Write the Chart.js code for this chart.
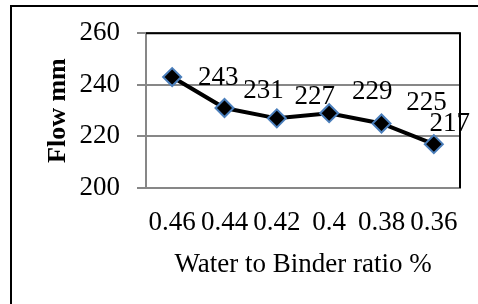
<!DOCTYPE html>
<html>
<head>
<meta charset="utf-8">
<script src="https://cdn.jsdelivr.net/npm/chart.js@4"></script>
<style>
    html, body { margin: 0; padding: 0; background: #fff; overflow: hidden; }
    #bingkai { position: absolute; left: 10px; top: 5px; width: 600px; height: 400px; border: 2px solid #000; }
    #wadah { position: absolute; left: 0; top: 0; width: 478px; height: 304px; }
</style>
</head>
<body>
<div id="bingkai"></div>
<div id="wadah"><canvas id="grafik-flow" width="478" height="304"></canvas></div>
<script>
// Data
const kategori = ['0.46', '0.44', '0.42', '0.4', '0.38', '0.36'];
const nilaiFlow = [243, 231, 227, 229, 225, 217];
const tickY = [200, 220, 240, 260];

const abu = '#878787';
Chart.defaults.font.family = '"Liberation Serif", "Times New Roman", serif';
Chart.defaults.color = '#000';

// Garis hitam di atas dan kanan area plot
const bingkaiPlot = {
    id: 'bingkaiPlot',
    beforeDatasetsDraw(chart) {
        const { ctx, chartArea: a } = chart;
        ctx.save();
        ctx.strokeStyle = '#000';
        ctx.lineWidth = 2;
        ctx.beginPath();
        ctx.moveTo(a.left, a.top);
        ctx.lineTo(a.right, a.top);
        ctx.lineTo(a.right, a.bottom);
        ctx.stroke();
        ctx.restore();
    }
};

// Label nilai di samping titik (posisi seperti di Excel)
const labelNilai = {
    id: 'labelNilai',
    afterDatasetsDraw(chart, args, opts) {
        const ctx = chart.ctx;
        const meta = chart.getDatasetMeta(0);
        ctx.save();
        ctx.font = opts.font;
        ctx.fillStyle = '#000';
        ctx.textAlign = 'center';
        ctx.textBaseline = 'middle';
        meta.data.forEach((titik, i) => {
            const [dx, dy] = opts.geser[i];
            ctx.fillText(String(nilaiFlow[i]), titik.x + dx, titik.y + dy);
        });
        ctx.restore();
    }
};

new Chart(document.getElementById('grafik-flow').getContext('2d'), {
    type: 'line',
    data: {
        labels: kategori,
        datasets: [{
            data: nilaiFlow,
            borderColor: '#000',
            borderWidth: 4,
            tension: 0,
            pointStyle: 'rectRot',
            pointRadius: 9,
            pointBackgroundColor: '#000',
            pointBorderColor: '#4a7ebb',
            pointBorderWidth: 2
        }]
    },
    options: {
        responsive: false,
        animation: false,
        layout: { padding: { left: 43, top: 33, right: 18, bottom: 23 } },
        plugins: {
            legend: { display: false },
            tooltip: { enabled: false },
            labelNilai: {
                font: '27px "Liberation Serif", serif',
                geser: [[46, 1], [39, -17], [38, -21], [43, -21], [45, -21], [16, -20]]
            }
        },
        scales: {
            x: {
                offset: true,
                grid: { display: false, drawTicks: false },
                border: { color: abu, width: 2 },
                ticks: { font: { size: 27 }, padding: 19, autoSkip: false, maxRotation: 0 },
                title: { display: true, text: 'Water to Binder ratio %', font: { size: 27 }, padding: 0 },
                afterFit(s) { s.height = 93; }
            },
            y: {
                min: 200,
                max: 260,
                afterBuildTicks(s) { s.ticks = tickY.map(v => ({ value: v })); },
                grid: { color: abu, lineWidth: 2, tickLength: 9, tickColor: abu },
                border: { color: abu, width: 2 },
                ticks: { font: { size: 27 }, padding: 17 },
                title: { display: true, text: 'Flow mm', font: { size: 26, weight: 'bold' }, padding: 0 },
                afterFit(s) { s.width = 103; }
            }
        }
    },
    plugins: [bingkaiPlot, labelNilai]
});
</script>
</body>
</html>
